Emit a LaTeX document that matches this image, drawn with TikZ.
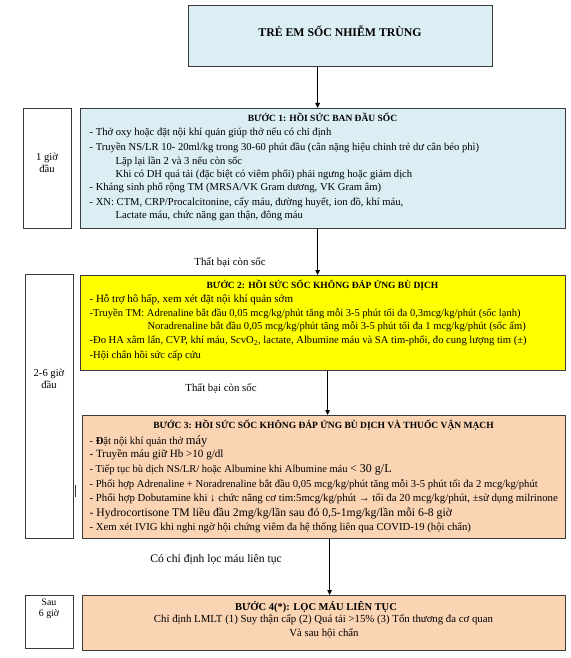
\documentclass[tikz,border=0pt]{standalone}
\usepackage{fontspec}
\setmainfont{Liberation Serif}
\usetikzlibrary{arrows.meta, positioning, calc}
\definecolor{cblue}{HTML}{DAEEF3}
\definecolor{cyellow}{HTML}{FFFF00}
\definecolor{cpeach}{HTML}{FBD4B4}
\definecolor{cline}{HTML}{3A3A3A}
\tikzset{
  every picture/.style={line width=1.2pt},
  box/.style={draw=cline, fill=#1, anchor=north west, inner sep=0pt},
  box/.default=white,
  arrow/.style={-{Triangle[length=5pt, width=4.5pt]}, draw=black, line width=1pt},
  head/.style={font=\fontsize{9.5}{11}\selectfont\bfseries, anchor=base, inner sep=0pt},
  txt/.style={font=\fontsize{#1}{12}\selectfont, anchor=base west, inner sep=0pt},
  txt/.default=10.6,
  note/.style={font=\fontsize{#1}{12.5}\selectfont, align=center, inner sep=0pt},
  note/.default=10.6,
}

\begin{document}
\begin{tikzpicture}[x=1pt, y=-1pt]
  \useasboundingbox (0,0) rectangle (570,658);
  % boxes
  \node[box=cblue, minimum width=304pt, minimum height=61pt] (title) at (188,5) {};
  \node[box=cblue, minimum width=485pt, minimum height=120pt] (box1) at (80,108) {};
  \node[box=cyellow, minimum width=485pt, minimum height=95pt] (box2) at (80,275) {};
  \node[box=cpeach, minimum width=483pt, minimum height=123pt] (box3) at (82,415) {};
  \node[box=cpeach, minimum width=483pt, minimum height=55pt] (box4) at (82,595) {};
  % time column
  \node[box, minimum width=48pt, minimum height=120pt] (t1) at (23,108) {};
  \node[box, minimum width=48pt, minimum height=264pt] (t2) at (25,274) {};
  \node[box, minimum width=48pt, minimum height=53pt] (t3) at (25,595) {};
  \node[note] (t1text) at (47,163) {1 giờ\\đầu};
  \node[note] (t2text) at (49,379) {2-6 giờ\\đầu};
  \node[font=\fontsize{9.8}{10.5}\selectfont, align=center, inner sep=0pt] (t3text) at (49,609) {Sau\\6 giờ};
  \draw[cline, line width=1pt] (75.5,485) -- (75.5,497);
  % title and headings
  \node[font=\fontsize{11.8}{13}\selectfont\bfseries] (titletext) at (340,31) {TRẺ EM SỐC NHIỄM TRÙNG};
  \node[head] (h1) at (322.5,121.5) {BƯỚC 1: HỒI SỨC BAN ĐẦU SỐC};
  \node[head] (h2) at (322.5,288.5) {BƯỚC 2: HỒI SỨC SỐC KHÔNG ĐÁP ỨNG BÙ DỊCH};
  \node[head] (h3) at (323.5,428.5) {BƯỚC 3: HỒI SỨC SỐC KHÔNG ĐÁP ỨNG BÙ DỊCH VÀ THUỐC VẬN MẠCH};
  \node[head, font=\fontsize{10.5}{12}\selectfont\bfseries] (h4) at (316,610.5) {BƯỚC 4(*): LỌC MÁU LIÊN TỤC};
  % step 1 lines
  \foreach \y/\x/\t [count=\i] in {
      135.5/89/{- Thở oxy hoặc đặt nội khí quản giúp thở nếu có chỉ định},
      150.5/89/{- Truyền NS/LR 10- 20ml/kg trong 30-60 phút đầu (cân nặng hiệu chỉnh trẻ dư cân béo phì)},
      164.5/115/{Lặp lại lần 2 và 3 nếu còn sốc},
      177.5/115/{Khi có DH quá tải (đặc biệt có viêm phổi) phải ngưng hoặc giảm dịch},
      190.5/89/{- Kháng sinh phổ rộng TM (MRSA/VK Gram dương, VK Gram âm)},
      205.5/89/{- XN: CTM, CRP/Procalcitonine, cấy máu, đường huyết, ion đồ, khí máu,},
      218.5/115/{Lactate máu, chức năng gan thận, đông máu}}
    \node[txt] (a\i) at (\x,\y) {\t};
  % step 2 lines
  \foreach \y/\x/\s/\t [count=\i] in {
      302.5/89/11/{- Hỗ trợ hô hấp, xem xét đặt nội khí quản sớm},
      316.5/89/10.5/{-Truyền TM: Adrenaline bắt đầu 0,05 mcg/kg/phút tăng mỗi 3-5 phút tối đa 0,3mcg/kg/phút (sốc lạnh)},
      329.5/147/10.55/{Noradrenaline bắt đầu 0,05 mcg/kg/phút tăng mỗi 3-5 phút tối đa 1 mcg/kg/phút (sốc ấm)},
      343.5/89/10.6/{-Đo HA xâm lấn, CVP, khí máu, ScvO\textsubscript{2}, lactate, Albumine máu và SA tim-phổi, đo cung lượng tim (±)},
      358.5/89/10.6/{-Hội chẩn hồi sức cấp cứu}}
    \node[txt=\s] (b\i) at (\x,\y) {\t};
  % step 3 lines
  \foreach \y/\x/\s/\t [count=\i] in {
      444/89/10.6/{- \textbf{Đ}ặt nội khí quản thở {\fontsize{12.5}{14}\selectfont máy}},
      457.5/89/11.1/{- Truyền máu giữ Hb >10 g/dl},
      472.5/89/10.5/{- Tiếp tục bù dịch NS/LR/ hoặc Albumine khi Albumine máu {\fontsize{12}{14}\selectfont < 30 g/L}},
      487/89/10.65/{- Phối hợp Adrenaline + Noradrenaline bắt đầu 0,05 mcg/kg/phút tăng mỗi 3-5 phút tối đa 2 mcg/kg/phút},
      501.5/89/10.8/{- Phối hợp Dobutamine khi ↓ chức năng cơ tim:5mcg/kg/phút → tối đa 20 mcg/kg/phút, ±sử dụng milrinone},
      516/89/11.7/{- Hydrocortisone TM liều đầu 2mg/kg/lần sau đó 0,5-1mg/kg/lần mỗi 6-8 giờ},
      530.5/89/10.7/{- Xem xét IVIG khi nghi ngờ hội chứng viêm đa hệ thống liên qua COVID-19 (hội chẩn)}}
    \node[txt=\s] (c\i) at (\x,\y) {\t};
  % step 4 lines
  \node[txt=10.8, anchor=base] (d1) at (323.5,622) {Chỉ định LMLT (1) Suy thận cấp (2) Quá tải >15\% (3) Tổn thương đa cơ quan};
  \node[txt=10.8, anchor=base] (d2) at (324,636) {Và sau hội chẩn};
  % connectors
  \draw[arrow] ([xshift=-23pt]title.south) -- ([xshift=-5.5pt]box1.north);
  \draw[arrow] ([xshift=-5.5pt]box1.south) -- ([xshift=-5.5pt]box2.north);
  \draw[arrow] ([xshift=4.5pt]box2.south) -- ([xshift=3.5pt]box3.north);
  \draw[arrow] ([xshift=5.5pt]box3.south) -- ([xshift=5.5pt]box4.north);
  \node[note=10.8] (fail1) at (230,262) {Thất bại còn sốc};
  \node[note=10.8] (fail2) at (221,388) {Thất bại còn sốc};
  \node[note=11.6] (filter) at (216,559) {Có chỉ định lọc máu liên tục};
\end{tikzpicture}
\end{document}
